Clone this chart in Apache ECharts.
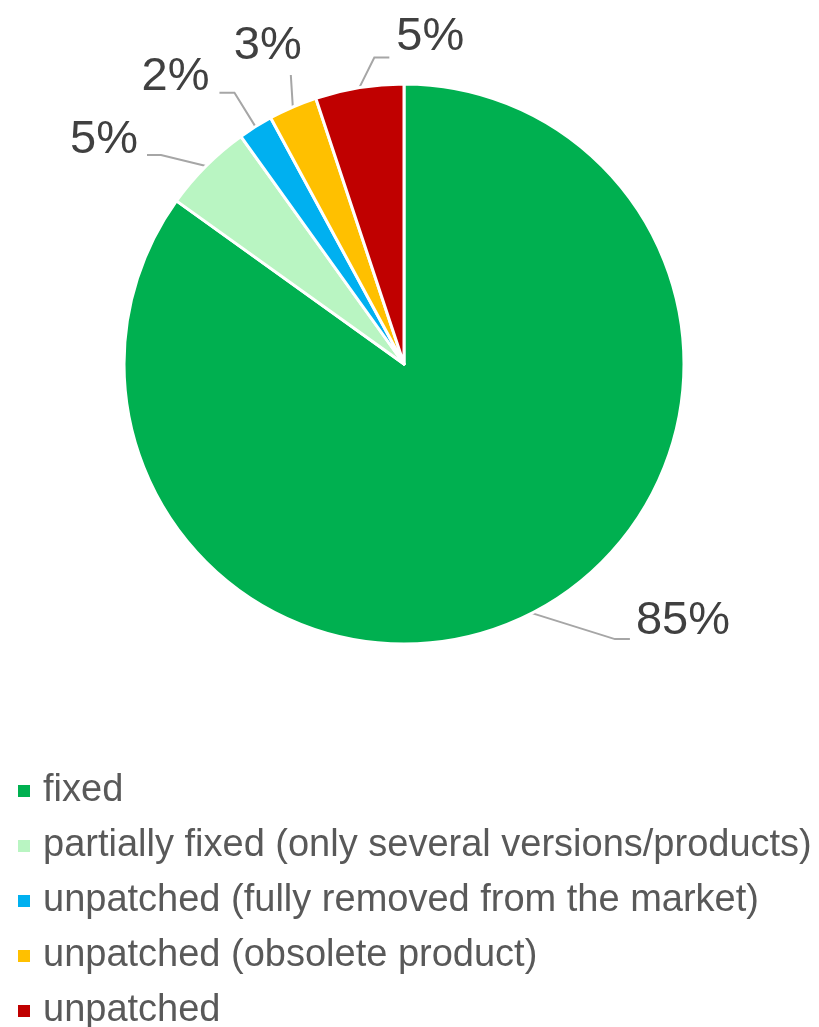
<!DOCTYPE html>
<html><head><meta charset="utf-8">
<script src="https://cdn.jsdelivr.net/npm/echarts@6/dist/echarts.min.js"></script>
<style>html,body{margin:0;padding:0;background:#fff}#c{width:819px;height:1027px}</style>
</head><body><div id="c"></div>
<script>
const categories = ['fixed','partially fixed (only several versions/products)','unpatched (fully removed from the market)','unpatched (obsolete product)','unpatched'];
const values = [84.9, 5.2, 2.0, 2.8, 5.1];
const colors = ['#00B050','#B9F5C2','#00B0F0','#FFC000','#C00000'];

// label placement style, relative to the slice's edge anchor computed by ECharts
const labelStyles = [
  {bx:83, by:26, ex:98, ey:26, tx:104, ty:8, align:'left'},
  {bx:-45, by:-11, ex:-59, ey:-11, tx:-68, ty:-26, align:'right'},
  {bx:-21, by:-34, ex:-36, ey:-34, tx:-46, ty:-50, align:'right'},
  {bx:-2, by:-32, ex:-2, ey:-32, tx:-25, ty:-61, align:'center'},
  {bx:15, by:-30, ex:30, ey:-30, tx:37, ty:-51, align:'left'}
];

const chart = echarts.init(document.getElementById('c'), null, {renderer:'canvas'});
chart.setOption({
  animation:false,
  color: colors,
  legend:{
    orient:'vertical', left:16, top:772, padding:0, height:300,
    icon:'rect', itemWidth:14, itemHeight:14, itemGap:17,
    textStyle:{fontFamily:'Liberation Sans, Arial, sans-serif', fontSize:38, lineHeight:36, color:'#595959', padding:[0,0,0,7]},
    data: categories
  },
  series:[{
    type:'pie',
    center:[404,364], radius:[0,280],
    startAngle:90, clockwise:true,
    avoidLabelOverlap:false,
    itemStyle:{borderColor:'#fff', borderWidth:3},
    label:{
      show:true, position:'outside',
      fontFamily:'Liberation Sans, Arial, sans-serif', fontSize:47, color:'#404040',
      formatter: p => Math.round(p.percent) + '%'
    },
    labelLine:{show:true, length:20, length2:18, lineStyle:{color:'#A6A6A6', width:2}},
    labelLayout: function (params) {
      const s = labelStyles[params.dataIndex];
      const a = params.labelLinePoints[0];
      return {
        x: a[0] + s.tx, y: a[1] + s.ty, align: s.align, verticalAlign: 'middle',
        labelLinePoints: [[a[0], a[1]], [a[0] + s.bx, a[1] + s.by], [a[0] + s.ex, a[1] + s.ey]]
      };
    },
    emphasis:{disabled:true},
    data: categories.map((n,i)=>({name:n, value:values[i]}))
  }]
});
</script></body></html>
